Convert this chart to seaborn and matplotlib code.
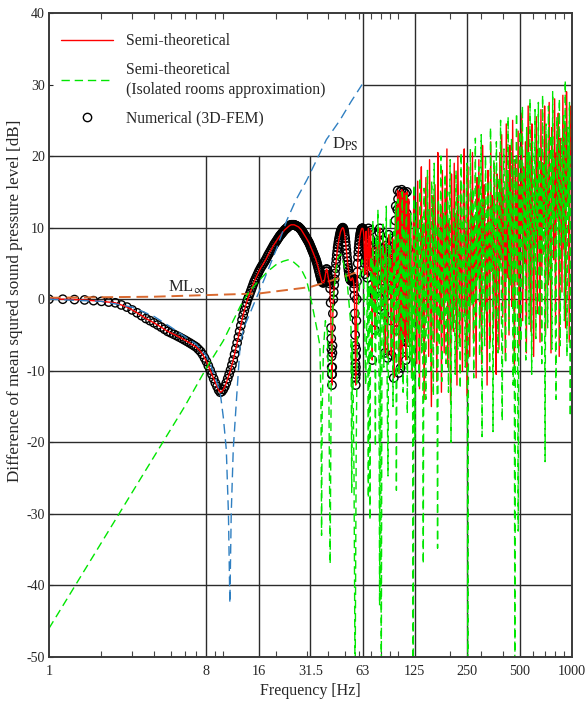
import numpy as np
import pandas as pd
import matplotlib
matplotlib.use("Agg")
import matplotlib.pyplot as plt
from matplotlib.lines import Line2D
from matplotlib.ticker import FixedLocator, LogLocator, NullFormatter
import seaborn as sns

# ---------------- data ----------------
# Semi-theoretical == Numerical (3D-FEM) in the smooth range, 0.2 Hz step 1.0-15.8 Hz
level_a = [0.0, 0.0, -0.05, -0.1, -0.2, -0.3, -0.4, -0.5, -0.8, -1.1,
           -1.5, -1.9, -2.3, -2.7, -3.0, -3.3, -3.6, -3.9, -4.2, -4.5,
           -4.7, -4.9, -5.1, -5.3, -5.5, -5.7, -5.9, -6.1, -6.3, -6.5,
           -6.7, -7.0, -7.3, -7.7, -8.2, -8.7, -9.3, -9.9, -10.5, -11.1,
           -11.7, -12.2, -12.7, -13.0, -12.9, -12.6, -12.2, -11.7, -11.1, -10.5,
           -9.9, -9.2, -8.5, -7.7, -6.9, -6.1, -5.3, -4.5, -3.7, -2.9,
           -2.2, -1.6, -1.0, -0.5, 0.0, 0.4, 0.8, 1.2, 1.6, 2.0,
           2.4, 2.7, 3.0, 3.3, 3.6]
freq_a = np.linspace(1.0, 15.8, len(level_a))

# 0.25 Hz step 16.0-65.75 Hz
level_b = [3.9, 4.2, 4.5, 4.75, 5.0, 5.25, 5.5, 5.8, 6.1, 6.35,
           6.6, 6.85, 7.1, 7.35, 7.6, 7.8, 8.0, 8.2, 8.4, 8.6,
           8.8, 8.95, 9.1, 9.25, 9.4, 9.55, 9.7, 9.8, 9.9, 10.0,
           10.1, 10.2, 10.3, 10.35, 10.4, 10.4, 10.4, 10.4, 10.4, 10.35,
           10.3, 10.25, 10.2, 10.15, 10.1, 10.0, 9.9, 9.8, 9.7, 9.55,
           9.4, 9.25, 9.1, 8.95, 8.8, 8.65, 8.5, 8.35, 8.2, 8.05,
           7.9, 7.7, 7.5, 7.3, 7.1, 6.9, 6.7, 6.5, 6.3, 6.1,
           5.9, 5.7, 5.5, 5.25, 5.0, 4.7, 4.4, 4.1, 3.8, 3.5,
           3.2, 2.9, 2.7, 2.5, 2.4, 2.3, 2.3, 2.4, 2.6, 3.0,
           3.4, 3.9, 4.2, 4.2, 3.9, 3.4, 3.0, 2.7, 2.5, 2.2,
           1.5, -0.5, -4.0, -8.0, -12.0, -7.5, -2.0, 0.0, 1.0, 2.0,
           2.8, 3.6, 4.3, 5.0, 5.6, 6.2, 6.7, 7.2, 7.6, 8.0,
           8.3, 8.6, 8.9, 9.15, 9.4, 9.55, 9.7, 9.8, 9.9, 9.95,
           10.0, 9.9, 9.8, 9.6, 9.3, 8.9, 8.5, 8.0, 7.5, 6.95,
           6.4, 5.85, 5.3, 4.85, 4.4, 4.0, 3.6, 3.3, 3.0, 2.85,
           2.7, 2.65, 2.6, 2.7, 2.8, 2.9, 3.0, 2.9, 2.8, 2.5,
           2.2, 1.5, 0.5, -2.0, -5.0, -9.0, -12.0, -8.0, -3.0, 0.0,
           2.5, 3.8, 5.0, 5.9, 6.6, 7.2, 7.7, 8.1, 8.5, 8.8,
           9.1, 9.3, 9.5, 9.65, 9.8, 9.85, 9.9, 9.9, 9.9, 9.8,
           9.6, 9.3, 8.8, 7.8, 6.5, 5.0, 3.5, 5.5, 8.0, 9.3]
freq_b = np.linspace(16.0, 65.75, len(level_b))

# extra numerical points along the two narrow dips
dip_freq = [41.6, 41.7, 41.85, 41.9, 42.1, 42.15, 42.3,
            57.1, 57.2, 57.35, 57.4, 57.6, 57.65, 57.8]
dip_level = [-5.5, -7.0, -9.5, -10.5, -10.5, -9.5, -6.5,
             -6.5, -8.0, -10.0, -11.0, -10.5, -9.5, -7.0]

# 0.5 Hz step 66-115 Hz (numerical + semi-theoretical, scattered)
level_c = [9.5, 6.0, 3.0, 6.5, 9.9, 7.5, 4.0, 8.5, 9.6, 5.0,
           2.0, -8.5, 4.5, 7.2, 5.8, 0.5, -4.3, 3.0, 6.5, 7.8,
           7.0, 4.5, 1.5, 5.5, 8.0, 9.3, 9.9, 6.0, 2.0, -1.5,
           3.5, 7.0, 2.6, 5.5, 8.2, 6.5, -2.0, -7.5, 1.0, 6.0,
           7.5, 4.0, 0.5, -8.2, 2.5, 7.0, 9.0, 5.5, 3.0, 6.8,
           4.2, -3.0, -7.8, 2.0, 5.0, 8.5, 6.2, 1.5, -11.0, 4.0,
           7.5, 5.0, 11.0, 13.0, 8.5, -4.3, 3.5, 12.5, 15.2, 14.0,
           6.0, -10.3, 2.0, 13.0, 15.0, 10.0, -9.6, 1.0, 14.5, 15.3,
           8.0, -7.0, 4.0, 12.0, 15.0, 11.5, -5.3, 0.0, 13.5, 14.8,
           9.0, -8.5, 3.0, 12.0, 15.0, 10.5, 2.0, -6.0, 7.0]
freq_c = np.linspace(66.0, 115.0, len(level_c))

# Semi-theoretical, log-spaced 115.5-1000 Hz
red_high_level = [
    14.0, -6.5, 12.0, 3.0, -11.0, 9.5, 15.0, -3.0, 11.0, -9.0,
    16.5, 2.0, -12.5, 8.0, 18.5, -4.0, 10.5, -14.0, 6.0, 17.0,
    -2.5, 12.5, -8.0, 19.5, 4.0, -15.0, 9.0, 14.5, -6.0, 16.0,
    1.5, -11.5, 20.5, 7.5, -3.5, 13.0, -13.0, 18.0, 5.0, -7.5,
    15.5, 0.5, 21.0, -9.5, 11.0, 3.5, -14.5, 17.5, 8.5, -4.5,
    19.0, -1.0, 12.0, -12.0, 20.0, 6.5, -6.5, 16.5, 2.5, -10.0,
    14.0, 21.0, -2.0, 9.5, -13.5, 18.5, 4.5, -8.0, 15.0, 0.0,
    20.5, -5.5, 11.5, 7.0, -11.0, 17.0, 3.0, 19.5, -3.0, 13.5,
    -9.0, 21.5, 6.0, 16.0, -1.5, 10.5, -12.0, 18.0, 8.0, -6.0,
    22.0, 4.0, 14.5, -4.0, 19.0, 1.0, -10.5, 17.5, 11.0, -7.0,
    20.5, 5.5, 23.0, -2.5, 15.5, 9.0, -8.5, 24.5, 3.0, 18.0,
    -5.0, 21.5, 12.5, -1.0, 25.0, 7.5, -9.5, 19.5, 14.0, 2.0,
    23.5, -6.5, 16.0, 10.0, 26.0, -3.0, 18.5, 5.0, 22.0, -7.5,
    13.0, 27.0, 1.5, 20.0, -4.5, 24.5, 11.5, -8.0, 17.0, 8.0,
    25.5, -2.0, 21.0, 14.5, -6.0, 26.5, 4.0, 19.0, 10.5, 27.0,
    -5.0, 23.0, 15.0, 2.0, 27.5, 9.0, -7.5, 24.0, 18.0, 5.5,
    28.0, -3.5, 20.5, 12.0, 26.0, -8.0, 22.5, 16.0, 1.0, 28.5,
    7.0, 24.5, -4.0, 29.0, 13.5, 21.0, -6.0, 27.0, 18.5, 29.5]
red_high_freq = np.geomspace(115.5, 1000.0, len(red_high_level))

# Semi-theoretical (isolated rooms approximation), low part
green_low_freq = [1, 2, 4, 6, 8, 10, 11.4, 12.5, 14, 16,
                  18, 20, 22, 23.5, 25, 27, 28.5, 30, 31.5, 33,
                  34.5, 35.8, 36.3, 36.6, 36.9, 37.5, 38.5, 39.5, 40.3, 41.0,
                  41.6, 42.5, 44, 45.5, 47, 48.5, 50, 51.5, 53, 54,
                  54.5, 55, 55.5, 56.2, 57, 57.8, 58.5, 59.5, 61, 62.5,
                  63.5, 64.5, 65.5, 66.5, 67.2, 67.9, 68.6, 69.4, 70.0]
green_low_level = [-46, -34, -22, -15, -9.6, -5.8, -3.0, -1.0, 1.0, 2.6,
                   3.9, 4.8, 5.3, 5.5, 5.3, 4.6, 3.8, 2.7, 0.5, -1.9,
                   -4.3, -6.5, -14, -33, -16, -7, -3, -4.5, -13, -37,
                   -10, -1, 3.5, 5.8, 6.3, 5.5, 4, 2, -1.5, -4,
                   -27, -6, -12, -25, -55, -22, -8, -1, 3.5, 5.5,
                   4, -2, -12, -4, 3, -27.8, 2, -30.9, 5]

# isolated rooms approximation, log-spaced 70.5-1000 Hz
green_high_level = [
    6.0, -8.0, 11.0, -2.0, 4.5, -20.6, 9.0, -5.0, 12.5, 1.0,
    -42.8, 8.0, -55.0, 3.0, 10.5, -9.5, 6.5, -3.5, 13.0, -12.0,
    -24.7, 7.5, 0.5, 11.5, -7.0, 4.0, -15.0, 9.5, -1.5, 13.5,
    -26.7, 5.5, 14.0, -10.5, 8.5, 2.0, -6.0, 15.0, -13.0, 10.0,
    -3.0, 6.0, 14.5, -16.0, 9.0, 1.5, -8.5, 12.0, -11.0, 4.5,
    -55.0, 16.0, -19.6, 7.0, 13.5, -4.5, 10.0, -12.5, 17.0, 3.5,
    -7.5, 11.5, -37.0, 15.5, 0.5, -14.0, 8.0, 18.0, -5.5, 12.5,
    2.5, -10.0, 16.5, 6.0, -13.5, 19.0, -2.0, 10.5, 4.0, -34.8,
    14.0, -6.5, 8.5, 20.0, -11.5, 5.0, 12.0, -3.5, 17.5, -9.0,
    1.0, 15.0, -13.0, 9.5, 19.5, -20.0, 6.5, -4.0, 13.0, 3.0,
    -10.5, 18.0, 7.5, -7.0, 14.5, 0.0, -12.5, 20.5, 10.0, -2.5,
    16.0, 4.5, -9.5, 12.5, 19.0, -55.0, 8.0, -5.0, 21.0, 11.0,
    -1.0, 15.5, -11.0, 6.5, 22.5, -4.0, 13.0, 2.5, 18.5, -8.0,
    9.5, 23.0, -19.2, 14.0, 5.0, -6.5, 20.0, 11.5, -2.0, 16.5,
    7.0, -10.0, 24.0, 3.5, 13.0, -18.5, 19.5, 9.0, -3.0, 22.0,
    12.5, -7.5, 17.0, 4.0, 25.0, -1.5, -17.0, 14.5, 21.0, 6.0,
    -9.0, 18.0, 10.5, 25.5, -4.5, 15.0, 2.0, 22.5, 8.5, -12.0,
    19.5, -55.0, 12.0, 26.0, 5.5, -32.4, 16.5, 23.5, -6.0, 10.0,
    27.0, 1.5, 18.5, 13.0, -8.5, 24.0, 7.0, 20.5, -3.5, 28.0,
    11.5, -10.5, 22.0, 15.5, 4.0, 26.5, -5.5, 17.0, 9.5, 27.5,
    -2.5, 21.5, 13.5, -9.0, 28.5, 6.0, 19.0, -22.7, 24.5, 11.0,
    -4.0, 27.0, 15.0, 2.5, 23.0, -7.0, 29.0, 10.5, 20.0, -1.0,
    -14.0, 25.5, 13.0, 5.5, 28.0, -6.5, 18.0, 22.5, 8.0, 26.0,
    -3.0, 30.6, 16.5, -8.0, 24.0, 11.0, 27.5, -16.4, 20.0, 14.0]
green_high_freq = np.geomspace(70.5, 1000.0, len(green_high_level))

# D_PS (blue dashed)
dps_freq = [1, 2, 3, 4, 5, 6, 7, 8, 8.5, 9.0, 9.6, 10.0, 10.4, 10.7, 10.9,
            11.1, 11.4, 11.9, 12.5, 13.2, 14.2, 15.0, 16.2, 18, 20, 23.2,
            26, 30.2, 35.8, 39, 46.6, 54, 62.5]
dps_level = [0, -0.3, -1.1, -2.4, -3.9, -5.2, -6.3, -7.9, -9.3, -11.0, -13.1,
             -16.5, -21, -30, -42.5, -30, -21, -14, -6.2, -3.8, -2.0, -0.6,
             1.3, 4.0, 6.8, 11.1, 13.8, 16.7, 20.4, 22.3, 25.0, 27.6, 30.0]

# ML_inf (orange dashed)
ml_freq = [1, 4, 7.4, 16, 31.5, 53, 66, 82, 94, 125, 250, 500, 1000]
ml_level = [0.2, 0.35, 0.55, 0.8, 1.7, 3.4, 4.3, 5.0, 6.1, 7.5, 11.0, 15.0, 20.0]

x_tick_values = [1, 8, 16, 31.5, 63, 125, 250, 500, 1000]
x_tick_labels = ["1", "8", "16", "31.5", "63", "125", "250", "500", "1000"]
y_tick_values = list(range(-50, 41, 10))

# ---------------- assemble tables ----------------
num_df = pd.DataFrame({
    "freq": np.concatenate([freq_a, freq_b, dip_freq, freq_c]),
    "level": np.concatenate([level_a, level_b, dip_level, level_c]),
}).sort_values("freq")
red_df = pd.concat([num_df, pd.DataFrame({"freq": red_high_freq, "level": red_high_level})]
                   ).sort_values("freq").reset_index(drop=True)
green_df = pd.DataFrame({
    "freq": np.concatenate([green_low_freq, green_high_freq]),
    "level": np.concatenate([green_low_level, green_high_level]),
})
dps_df = pd.DataFrame({"freq": dps_freq, "level": dps_level})
ml_df = pd.DataFrame({"freq": ml_freq, "level": ml_level})

# ---------------- style ----------------
sns.set_style("ticks")
plt.rcParams["font.family"] = ["Liberation Serif", "DejaVu Serif"]
plt.rcParams["mathtext.fontset"] = "stix"

RED = "#ff0000"
GREEN = "#00e600"
BLUE = "#2f7fc1"
ORANGE = "#d9692f"

fig = plt.figure(figsize=(5.86, 7.02), dpi=100)
ax = fig.add_axes([0.0836, 0.0641, 0.8925, 0.9174])
ax.set_xscale("log")
ax.set_xlim(1, 1000)
ax.set_ylim(-50, 40)

# partial grid (the legend area is left empty)
gcol = "#2b2b2b"
for yv in [-40, -30, -20, -10, 0, 10, 20]:
    ax.axhline(yv, color=gcol, lw=1.0, zorder=1)
ax.axhline(30, xmin=np.log10(63) / 3, xmax=1, color=gcol, lw=1.0, zorder=1)
for xv in [8, 16, 31.5]:
    ax.axvline(xv, ymin=0, ymax=70 / 90, color=gcol, lw=1.0, zorder=1)
for xv in [63, 125, 250, 500]:
    ax.axvline(xv, color=gcol, lw=1.0, zorder=1)

sns.scatterplot(data=num_df, x="freq", y="level", ax=ax, marker="o", s=36,
                facecolor="none", edgecolor="black", linewidth=1.0, zorder=2,
                legend=False)
sns.lineplot(data=ml_df, x="freq", y="level", ax=ax, color=ORANGE, lw=1.4,
             linestyle=(0, (6, 3)), estimator=None, sort=False, zorder=2.5,
             legend=False)
sns.lineplot(data=red_df, x="freq", y="level", ax=ax, color=RED, lw=1.0,
             estimator=None, sort=False, zorder=3, legend=False)
sns.lineplot(data=green_df, x="freq", y="level", ax=ax, color=GREEN, lw=1.0,
             linestyle=(0, (6, 3.5)), estimator=None, sort=False, zorder=4,
             legend=False)
sns.lineplot(data=dps_df, x="freq", y="level", ax=ax, color=BLUE, lw=1.0,
             linestyle=(0, (7, 4)), estimator=None, sort=False, zorder=5,
             legend=False)

# ticks
ax.xaxis.set_major_locator(FixedLocator(x_tick_values))
ax.set_xticklabels(x_tick_labels)
ax.xaxis.set_minor_locator(LogLocator(base=10, subs=np.arange(1, 10), numticks=20))
ax.xaxis.set_minor_formatter(NullFormatter())
ax.set_yticks(y_tick_values)
ax.set_yticklabels([str(v) for v in y_tick_values])
ax.tick_params(axis="x", which="major", direction="in", length=0, labelsize=10.3,
               pad=6, top=False)
ax.tick_params(axis="x", which="minor", direction="in", length=4, width=0.8,
               top=True, bottom=True, color="#444444")
ax.tick_params(axis="y", which="major", direction="in", length=3, labelsize=10,
               pad=3)
for sp in ax.spines.values():
    sp.set_visible(True)
    sp.set_linewidth(1.4)
    sp.set_color("#3a3a3a")
    sp.set_zorder(6)

ax.set_xlabel("Frequency [Hz]", fontsize=11.5, labelpad=3)
ax.set_ylabel("Difference of mean squred sound pressure level [dB]", fontsize=12.3)
ax.yaxis.set_label_coords(-0.05, 0.553)

# annotations
ax.text(4.8, 0.5, r"ML$_{\infty}$", fontsize=12, ha="left", va="bottom", zorder=7)
ax.text(42, 21.6, r"D$_{\mathrm{PS}}$", fontsize=12, ha="left", va="center", zorder=7)

# legend
handles = [
    Line2D([], [], color=RED, lw=1.0),
    Line2D([], [], color=GREEN, lw=1.0, linestyle=(0, (6, 3.5))),
    Line2D([], [], color="black", lw=0, marker="o", markerfacecolor="none",
           markeredgecolor="black", markersize=6, markeredgewidth=1.0),
]
labels = ["Semi-theoretical", "Semi-theoretical\n(Isolated rooms approximation)",
          "Numerical (3D-FEM)"]
leg = ax.legend(handles, labels, loc="upper left", bbox_to_anchor=(0.0115, 0.978),
                borderaxespad=0.0, frameon=False, fontsize=11.3,
                handlelength=3.3, handletextpad=0.8, labelspacing=0.8,
                numpoints=1)
for t in leg.get_texts():
    t.set_linespacing(1.3)

fig.savefig("out.png", dpi=100)
